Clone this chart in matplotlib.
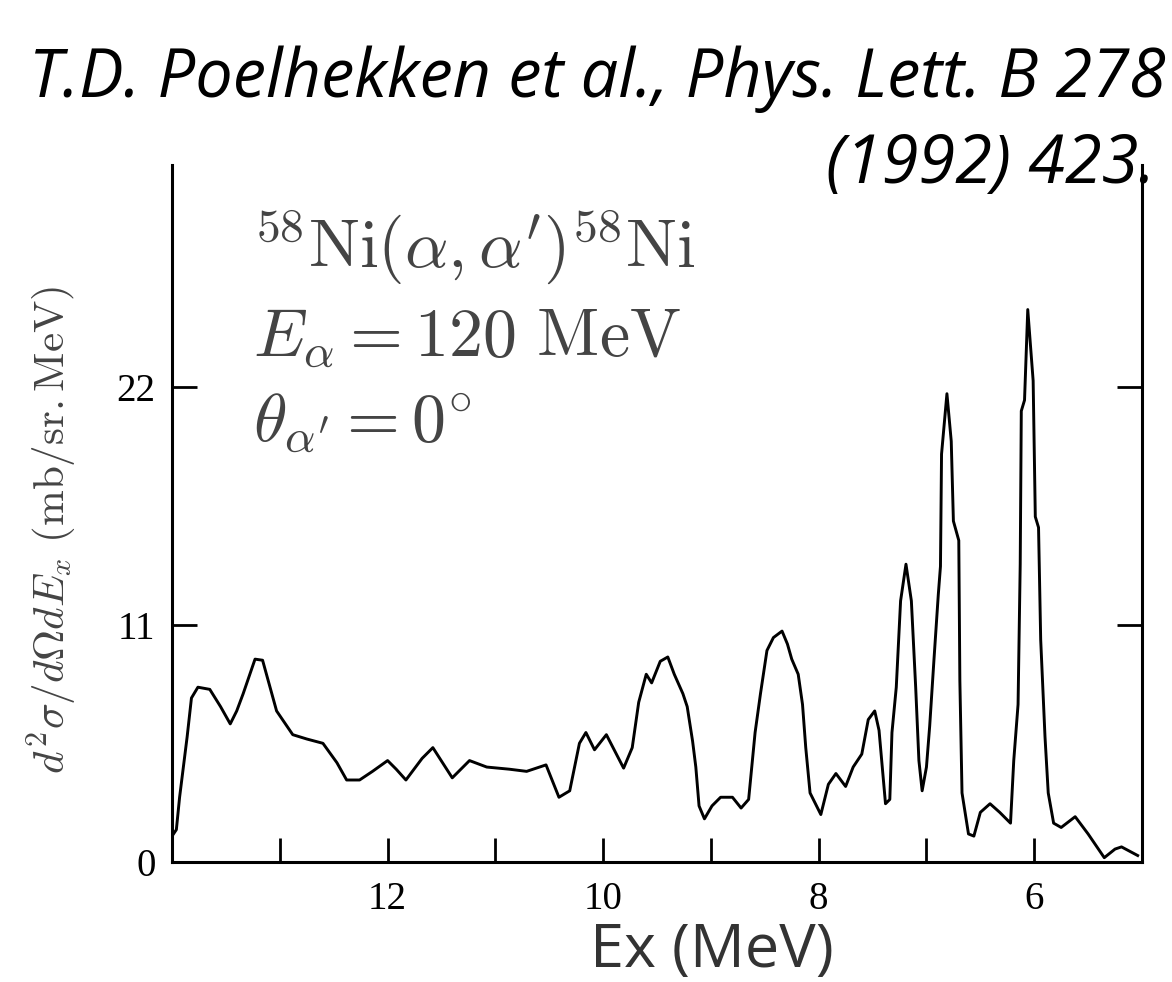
import matplotlib.pyplot as plt
from matplotlib.ticker import FixedLocator

plt.rcParams['mathtext.fontset'] = 'cm'

# spectrum (Ex in MeV, cross section in mb/sr.MeV)
ex = [14.0, 13.96, 13.93, 13.86, 13.82, 13.76, 13.65, 13.55, 13.46, 13.40, 13.34, 13.23,
      13.16, 13.03, 12.88, 12.75, 12.60, 12.47, 12.38, 12.26, 12.14, 12.0, 11.92, 11.83,
      11.68, 11.58, 11.40, 11.24, 11.08, 10.87, 10.71, 10.53, 10.41, 10.31, 10.22, 10.16,
      10.08, 9.97, 9.81, 9.73, 9.67, 9.60, 9.55, 9.47, 9.40, 9.34, 9.26, 9.22, 9.17, 9.14,
      9.11, 9.06, 8.99, 8.91, 8.80, 8.72, 8.65, 8.59, 8.54, 8.48, 8.42, 8.34, 8.29, 8.25,
      8.19, 8.15, 8.12, 8.08, 7.98, 7.91, 7.84, 7.75, 7.68, 7.60, 7.54, 7.48, 7.44, 7.41,
      7.38, 7.34, 7.32, 7.28, 7.24, 7.19, 7.14, 7.10, 7.07, 7.04, 7.00, 6.97, 6.93, 6.89,
      6.87, 6.86, 6.81, 6.77, 6.75, 6.70, 6.69, 6.67, 6.61, 6.56, 6.50, 6.41, 6.32, 6.22,
      6.19, 6.15, 6.13, 6.12, 6.09, 6.06, 6.01, 5.99, 5.96, 5.94, 5.90, 5.87, 5.82, 5.75,
      5.62, 5.50, 5.35, 5.25, 5.19, 5.04]
xs = [1.2, 1.5, 3.0, 5.8, 7.6, 8.1, 8.0, 7.2, 6.4, 7.0, 7.8, 9.4,
      9.35, 7.0, 5.9, 5.7, 5.5, 4.6, 3.8, 3.8, 4.2, 4.7, 4.3, 3.8,
      4.8, 5.3, 3.9, 4.7, 4.4, 4.3, 4.2, 4.5, 3.0, 3.3, 5.5, 6.0,
      5.2, 5.9, 4.35, 5.3, 7.4, 8.7, 8.3, 9.3, 9.5, 8.7, 7.8, 7.2, 5.6, 4.4,
      2.6, 2.0, 2.6, 3.0, 3.0, 2.5, 2.9, 6.0, 7.8, 9.8, 10.4, 10.7, 10.1, 9.4,
      8.7, 7.3, 5.3, 3.2, 2.2, 3.6, 4.1, 3.5, 4.4, 5.0, 6.6, 7.0, 6.1, 4.4,
      2.7, 2.9, 6.0, 8.1, 12.1, 13.8, 12.1, 8.1, 4.7, 3.3, 4.4, 6.3, 9.4, 12.4,
      13.7, 18.9, 21.7, 19.5, 15.8, 14.9, 8.4, 3.2, 1.3, 1.2, 2.3, 2.7, 2.3, 1.8,
      4.7, 7.3, 13.8, 20.9, 21.4, 25.6, 22.3, 16.0, 15.5, 10.3, 5.8, 3.2, 1.8, 1.6,
      2.1, 1.3, 0.2, 0.6, 0.7, 0.3]

xmajor = [12, 10, 8, 6]
xminor = [13, 11, 9, 7]
yticks = [0, 11, 22]

fig = plt.figure(figsize=(11.72, 9.82), dpi=100)
ax = fig.add_axes([0.1468, 0.1222, 0.8276, 0.7098])

ax.plot(ex, xs, color='black', lw=2.1)
ax.set_xlim(14, 5)
ax.set_ylim(0, 32.3)

ax.spines['top'].set_visible(False)
for s in ['left', 'right', 'bottom']:
    ax.spines[s].set_linewidth(2.2)

ax.xaxis.set_major_locator(FixedLocator(xmajor))
ax.xaxis.set_minor_locator(FixedLocator(xminor))
ax.set_yticks(yticks)
ax.tick_params(axis='x', which='both', direction='in', length=17, width=2, top=False)
ax.tick_params(axis='y', direction='in', length=18, width=2, right=True)
ax.tick_params(axis='x', labelsize=28, pad=14)
ax.tick_params(axis='y', labelsize=28, pad=12)
for lab in ax.get_xticklabels() + ax.get_yticklabels():
    lab.set_fontfamily('Liberation Serif')

ax.set_ylabel(r'$d^2\sigma/d\Omega dE_x\ (\mathrm{mb/sr.MeV})$', fontsize=31,
              color='#444444')
ax.yaxis.set_label_coords(-0.096, 0.476)
ax.set_xlabel('Ex (MeV)', fontsize=44, family='Open Sans', color='#333333')
ax.xaxis.label.set_va('baseline')
ax.xaxis.set_label_coords(0.557, -0.150)

ax.text(0.0835, 0.854, r'$^{58}\mathrm{Ni}(\alpha,\alpha^{\prime})^{58}\mathrm{Ni}$',
        transform=ax.transAxes, fontsize=49, color='#444444', va='baseline')
ax.text(0.0835, 0.726, r'$E_\alpha=120\ \mathrm{MeV}$',
        transform=ax.transAxes, fontsize=49, color='#444444', va='baseline')
ax.text(0.0835, 0.603, r'$\theta_{\alpha^{\prime}}=0^{\circ}$',
        transform=ax.transAxes, fontsize=49, color='#444444', va='baseline')

fig.text(0.995, 0.901, 'T.D. Poelhekken et al., Phys. Lett. B 278', ha='right',
         va='baseline', fontsize=48, family='Open Sans', style='italic', color='black')
fig.text(0.986, 0.8136, '(1992) 423.', ha='right', va='baseline', fontsize=48,
         family='Open Sans', style='italic', color='black')

fig.savefig('out.png', dpi=100)
